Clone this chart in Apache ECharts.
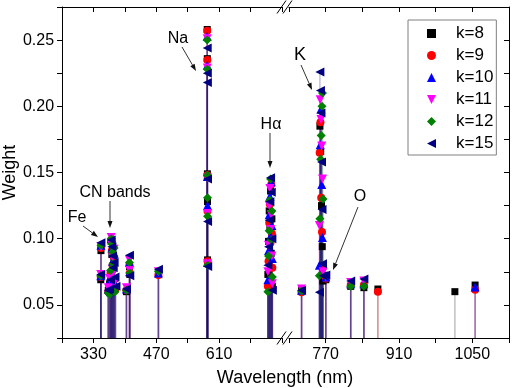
<!DOCTYPE html>
<html>
<head>
<meta charset="utf-8">
<script src="https://cdn.jsdelivr.net/npm/echarts@6/dist/echarts.min.js"></script>
<style>
html, body { margin: 0; padding: 0; background: #fff; }
#chart-container { width: 512px; height: 388px; }
</style>
</head>
<body>
<div id="chart-container"></div>
<script>
// [wavelength, weight] per k, split by broken axis segment
const k8Left = [[346.7, 0.091], [346.2, 0.069], [363, 0.061],
    [366, 0.066], [368, 0.072], [369.5, 0.098], [371, 0.088], [372.5, 0.077], [374, 0.063], [376, 0.083], [378, 0.070],
    [403.5, 0.060], [410.2, 0.079], [410.9, 0.073], [474.7, 0.073],
    [583.4, 0.258], [583.6, 0.236], [583.8, 0.149], [584.0, 0.128], [584.2, 0.084],
    [718.5, 0.073], [720, 0.098], [721.5, 0.121], [723, 0.108], [724.5, 0.136], [726, 0.089], [727.5, 0.115], [728.5, 0.064]];
const k8Right = [[724, 0.061], [759, 0.185], [760.5, 0.166], [762, 0.125], [763.5, 0.094], [764.5, 0.068],
    [770.3, 0.069], [817.8, 0.064], [843, 0.063], [869.7, 0.062], [1016.7, 0.060], [1055.3, 0.065]];

const k9Left = [[346.7, 0.093], [346.2, 0.071], [363, 0.060],
    [366, 0.064], [368, 0.074], [369.5, 0.099], [371, 0.091], [372.5, 0.080], [374, 0.066], [376, 0.086], [378, 0.061],
    [403.5, 0.061], [410.2, 0.080], [410.9, 0.074], [474.7, 0.0725],
    [583.4, 0.257], [583.6, 0.235], [583.8, 0.148], [584.0, 0.121], [584.2, 0.083],
    [718.5, 0.064], [720, 0.083], [721.5, 0.112], [723, 0.126], [724.5, 0.097], [726, 0.141], [727.5, 0.104], [728.5, 0.078]];
const k9Right = [[724, 0.0595], [758.5, 0.165], [760, 0.188], [761.5, 0.131], [763, 0.105], [764.5, 0.078],
    [770.3, 0.070], [817.8, 0.065], [843, 0.065], [869.7, 0.060], [1055.3, 0.0615]];

const k10Left = [[346.7, 0.095], [346.2, 0.072], [363, 0.062],
    [366, 0.068], [368, 0.060], [369.5, 0.100], [371, 0.093], [372.5, 0.083], [374, 0.071], [376, 0.089], [378, 0.066],
    [403.5, 0.062], [410.2, 0.082], [410.9, 0.075], [474.7, 0.074],
    [583.4, 0.253], [583.6, 0.231], [583.8, 0.147], [584.0, 0.125], [584.2, 0.082],
    [718.5, 0.069], [720, 0.091], [721.5, 0.118], [723, 0.132], [724.5, 0.102], [726, 0.143], [727.5, 0.110], [728.5, 0.085]];
const k10Right = [[724, 0.061], [758, 0.080], [759.5, 0.171], [761, 0.198], [762.5, 0.141], [764, 0.101],
    [770.3, 0.071], [817.8, 0.066], [843, 0.066], [1055.3, 0.0635]];

const k11Left = [[346.7, 0.094], [346.2, 0.073], [363, 0.063],
    [366, 0.070], [368, 0.062], [369.5, 0.101], [371, 0.095], [372.5, 0.086], [374, 0.074], [376, 0.092], [378, 0.068],
    [403.5, 0.063], [410.2, 0.084], [410.9, 0.076], [474.7, 0.075],
    [583.4, 0.251], [583.6, 0.229], [583.8, 0.146], [584.0, 0.119], [584.2, 0.081],
    [718.5, 0.075], [720, 0.095], [721.5, 0.125], [723, 0.138], [724.5, 0.107], [726, 0.118], [727.5, 0.087], [728.5, 0.066]];
const k11Right = [[724, 0.062], [758, 0.110], [759.5, 0.205], [761, 0.190], [762.5, 0.170], [764, 0.145], [765, 0.075],
    [770.3, 0.071], [817.8, 0.067], [843, 0.068]];

const k12Left = [[346.7, 0.095], [346.2, 0.072], [363, 0.059],
    [366, 0.058], [368, 0.076], [369.5, 0.100], [371, 0.096], [372.5, 0.090], [374, 0.081], [376, 0.093], [378, 0.060],
    [403.5, 0.061], [410.2, 0.082], [410.9, 0.074], [474.7, 0.0755],
    [583.4, 0.250], [583.6, 0.228], [583.8, 0.148], [584.0, 0.131], [584.2, 0.117], [584.4, 0.080],
    [718.5, 0.060], [720, 0.087], [721.5, 0.106], [723, 0.129], [724.5, 0.145], [726, 0.099], [727.5, 0.121], [728.5, 0.071]];
const k12Right = [[724, 0.0605], [758, 0.072], [759, 0.115], [760.5, 0.160], [761.5, 0.178], [763, 0.200], [764, 0.210], [765, 0.130],
    [770.3, 0.072], [817.8, 0.064], [843, 0.064]];

const k15Left = [[346.7, 0.097], [346.2, 0.073], [363, 0.061],
    [366, 0.062], [368, 0.069], [369.5, 0.099], [371, 0.094], [372.5, 0.087], [374, 0.078], [376, 0.082], [378, 0.071], [380, 0.064],
    [403.5, 0.062], [410.2, 0.0875], [410.9, 0.072], [474.7, 0.077],
    [583.4, 0.244], [583.6, 0.225], [583.8, 0.218], [584.0, 0.145], [584.2, 0.113], [584.4, 0.079],
    [718.5, 0.080], [720, 0.094], [721.5, 0.114], [723, 0.128], [724.5, 0.146], [726, 0.135], [727.5, 0.100], [728.5, 0.061]];
const k15Right = [[724, 0.061], [758, 0.0595], [759, 0.226], [760, 0.212], [761, 0.195], [762, 0.158], [763, 0.122], [764, 0.081], [765, 0.072],
    [770.3, 0.0725], [817.8, 0.068], [843, 0.0695]];

const xTickLabelsLeft = [330, 470, 610];
const xTickLabelsRight = [770, 910, 1050];
const yTickLabels = [0.05, 0.10, 0.15, 0.20, 0.25];
const yMin = 0.025;

const font = "'Liberation Sans', Arial, sans-serif";
const downTri = 'path://M0,0L10,0L5,10Z';
const leftTri = 'path://M0,5L10,0L10,10Z';

const groups = [
    { name: 'k=8', color: '#000000', symbol: 'rect', size: 7, left: k8Left, right: k8Right },
    { name: 'k=9', color: '#ff0000', symbol: 'circle', size: 8, left: k9Left, right: k9Right },
    { name: 'k=10', color: '#0000ff', symbol: 'triangle', size: 9, left: k10Left, right: k10Right },
    { name: 'k=11', color: '#ff00ff', symbol: downTri, size: 9, left: k11Left, right: k11Right },
    { name: 'k=12', color: '#008000', symbol: 'diamond', size: 9, left: k12Left, right: k12Right },
    { name: 'k=15', color: '#000080', symbol: leftTri, size: 9, left: k15Left, right: k15Right },
];

function stem(params, api) {
    let top = api.coord([api.value(0), api.value(1)]);
    let base = api.coord([api.value(0), yMin]);
    return {
        type: 'line',
        shape: { x1: top[0], y1: top[1], x2: base[0], y2: base[1] },
        style: { stroke: api.visual('color'), lineWidth: 1.5, opacity: 0.25 },
    };
}

let series = [];
groups.forEach(g => {
    [[g.left, 0], [g.right, 1]].forEach(([data, i]) => {
        series.push({
            name: g.name, type: 'custom', xAxisIndex: i * 2, yAxisIndex: i,
            data: data, renderItem: stem, encode: { x: 0, y: 1 },
            itemStyle: { color: g.color }, silent: true, z: 1,
        });
    });
});
groups.forEach(g => {
    [[g.left, 0], [g.right, 1]].forEach(([data, i]) => {
        series.push({
            name: g.name, type: 'scatter', xAxisIndex: i * 2, yAxisIndex: i,
            data: data, symbol: g.symbol, symbolSize: g.size,
            itemStyle: { color: g.color, opacity: 1 }, z: 2,
        });
    });
});

function xAxisOf(grid, min, max, labels, pos) {
    return {
        gridIndex: grid, type: 'value', position: pos, min: min, max: max, interval: 70,
        axisLine: { show: true, onZero: false, lineStyle: { color: '#000', width: 1 } },
        axisTick: { show: true, inside: pos === 'top', length: 5, lineStyle: { color: '#000' } },
        axisLabel: {
            show: pos === 'bottom', margin: 9, fontSize: 16, color: '#000', fontFamily: font,
            formatter: v => labels.includes(Math.round(v)) ? String(Math.round(v)) : '',
        },
        splitLine: { show: false },
    };
}

function arrow(x1, y1, x2, y2) {
    let a = Math.atan2(y2 - y1, x2 - x1);
    let bx = x2 - 7 * Math.cos(a), by = y2 - 7 * Math.sin(a);
    let px = -Math.sin(a) * 2.5, py = Math.cos(a) * 2.5;
    return [
        { type: 'line', shape: { x1: x1, y1: y1, x2: bx, y2: by }, style: { stroke: '#333', lineWidth: 1 } },
        { type: 'polygon', shape: { points: [[x2, y2], [bx + px, by + py], [bx - px, by - py]] }, style: { fill: '#111' } },
    ];
}

function label(text, x, y, size) {
    return { type: 'text', x: x, y: y, style: { text: text, fontSize: size, fontFamily: font, fill: '#000', textAlign: 'center', textVerticalAlign: 'middle' } };
}

function breakMark(x, y) {
    return [
        { type: 'line', shape: { x1: x - 5, y1: y + 6.5, x2: x + 4, y2: y - 6.5 }, style: { stroke: '#000', lineWidth: 1 } },
        { type: 'line', shape: { x1: x + 1, y1: y + 6.5, x2: x + 10, y2: y - 6.5 }, style: { stroke: '#000', lineWidth: 1 } },
    ];
}

let dom = document.getElementById('chart-container');
let myChart = echarts.init(dom, null, { renderer: 'canvas' });

let option = {
    animation: false,
    grid: [
        { left: 60, top: 7, width: 222, bottom: 50 },
        { left: 289, top: 7, right: 2, bottom: 50 },
    ],
    xAxis: [
        xAxisOf(0, 260, 750, xTickLabelsLeft, 'bottom'),
        xAxisOf(0, 260, 750, xTickLabelsLeft, 'top'),
        xAxisOf(1, 700, 1120, xTickLabelsRight, 'bottom'),
        xAxisOf(1, 700, 1120, xTickLabelsRight, 'top'),
    ],
    yAxis: [
        {
            gridIndex: 0, type: 'value', position: 'left', min: yMin, max: 0.275, interval: 0.025,
            axisLine: { show: true, lineStyle: { color: '#000' } },
            axisTick: { show: true, length: 5, lineStyle: { color: '#000' } },
            axisLabel: {
                margin: 8, fontSize: 16, color: '#000', fontFamily: font,
                formatter: v => yTickLabels.some(t => Math.abs(t - v) < 1e-6) ? v.toFixed(2) : '',
            },
            splitLine: { show: false },
            name: 'Weight', nameLocation: 'middle', nameGap: 42,
            nameTextStyle: { fontSize: 18, color: '#000', fontFamily: font },
        },
        {
            gridIndex: 1, type: 'value', position: 'right', min: yMin, max: 0.275, interval: 0.025,
            axisLine: { show: true, lineStyle: { color: '#000' } },
            axisTick: { show: true, inside: true, length: 5, lineStyle: { color: '#000' } },
            axisLabel: { show: false },
            splitLine: { show: false },
        },
    ],
    legend: {
        orient: 'vertical', left: 408, top: 20, padding: [5, 3, 3, 19], itemGap: 5,
        itemWidth: 9, itemHeight: 9,
        borderColor: '#808080', borderWidth: 1, backgroundColor: '#fff',
        textStyle: { fontSize: 17, color: '#000', fontFamily: font, padding: [0, 0, 0, 15] },
        data: groups.map(g => ({ name: g.name, icon: g.symbol })),
    },
    graphic: [
        ...breakMark(282, 338),
        ...breakMark(282, 7),
        label('Wavelength (nm)', 285, 378, 18),
        label('Na', 178, 39, 16), ...arrow(182, 47, 196, 71),
        label('CN bands', 115, 193, 16), ...arrow(110, 201, 110, 228),
        label('Fe', 77, 218, 16), ...arrow(83, 226, 98, 237),
        label('Hα', 271, 125, 16), ...arrow(270, 133, 270, 168),
        label('K', 300, 55, 18), ...arrow(301, 65, 312, 90),
        label('O', 360, 197, 16), ...arrow(358, 207, 333, 270),
    ],
    series: series,
};

if (option && typeof option === 'object') {
    myChart.setOption(option);
}

window.addEventListener('resize', myChart.resize);
</script>
</body>
</html>
